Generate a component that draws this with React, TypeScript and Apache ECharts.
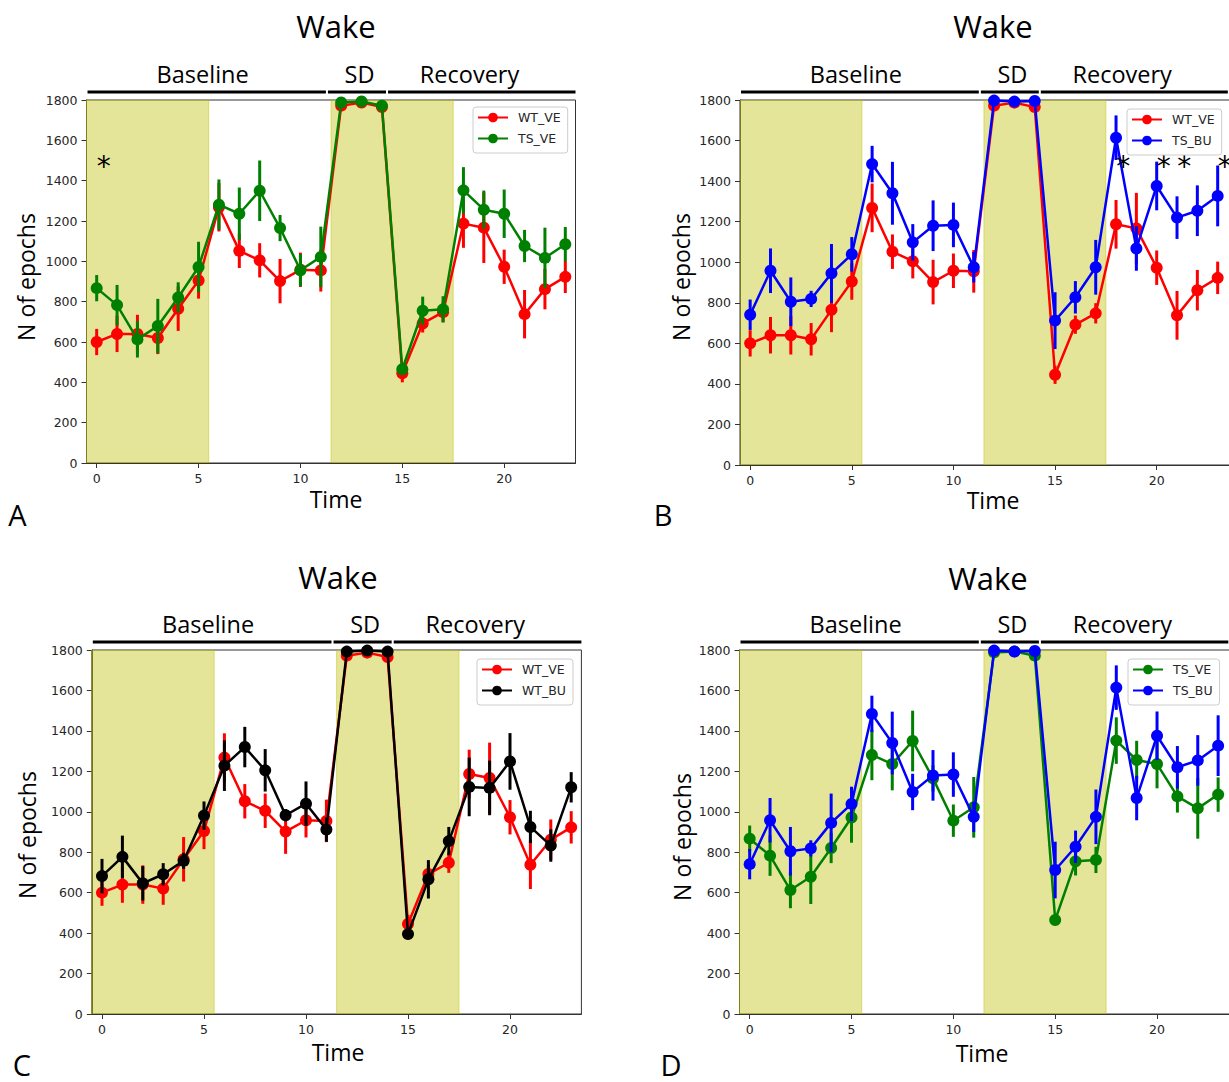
import React, { useEffect, useRef } from "react";
import * as echarts from "echarts";

// ---------- data ----------
const hours = [0, 1, 2, 3, 4, 5, 6, 7, 8, 9, 10, 11, 12, 13, 14, 15, 16, 17, 18, 19, 20, 21, 22, 23];
const xTicks = [0, 5, 10, 15, 20];

const WT_VE = [600, 640, 640, 620, 765, 905, 1268, 1052, 1005, 902, 958, 955, 1772, 1787, 1765, 445, 692, 748, 1187, 1167, 973, 738, 862, 923];
const WT_VE_err = [65, 90, 95, 80, 110, 90, 120, 85, 85, 110, 85, 105, 20, 15, 20, 45, 45, 50, 120, 175, 85, 120, 100, 80];

const TS_VE = [867, 783, 613, 679, 821, 972, 1281, 1236, 1350, 1165, 956, 1022, 1788, 1793, 1772, 465, 755, 762, 1352, 1256, 1236, 1076, 1017, 1085];
const TS_VE_err = [65, 100, 90, 135, 75, 125, 125, 130, 150, 65, 80, 150, 15, 10, 20, 25, 70, 65, 115, 95, 120, 80, 150, 85];

const TS_BU = [741, 958, 805, 819, 945, 1039, 1484, 1340, 1098, 1180, 1184, 975, 1797, 1792, 1795, 712, 827, 975, 1614, 1068, 1376, 1220, 1254, 1327];
const TS_BU_err = [75, 110, 120, 40, 145, 85, 90, 155, 90, 125, 110, 75, 10, 10, 10, 140, 80, 135, 110, 110, 120, 105, 125, 150];

const WT_BU = [682, 777, 646, 691, 757, 981, 1228, 1320, 1205, 983, 1040, 912, 1792, 1797, 1792, 395, 666, 855, 1123, 1118, 1249, 925, 833, 1121];
const WT_BU_err = [85, 105, 85, 55, 40, 70, 125, 100, 105, 30, 110, 60, 10, 10, 10, 20, 95, 70, 145, 135, 140, 80, 80, 75];

const shadeSpans = [
  [-0.5, 5.5],
  [11.5, 17.5],
];
const headerSegments = [
  [-0.45, 11.25],
  [11.35, 14.2],
  [14.3, 23.5],
];
const headerNames = ["Baseline", "SD", "Recovery"];
const headerLabelX = [5.2, 12.9, 18.3];

const asteriskA = [0.35];
const asteriskB = [18.35, 20.35, 21.35, 23.35];
const asteriskY = 1500;

const yMin = 0;
const yMax = 1800;
const yStep = 200;

// ---------- styles ----------
const RED = "#ff0000";
const GREEN = "#008000";
const BLUE = "#0000ff";
const BLACK = "#000000";
const TICK_FONT = "DejaVu Sans";
const TEXT_FONT = "Open Sans";

const seriesDefs = {
  WT_VE: { vals: WT_VE, errs: WT_VE_err, color: RED },
  TS_VE: { vals: TS_VE, errs: TS_VE_err, color: GREEN },
  TS_BU: { vals: TS_BU, errs: TS_BU_err, color: BLUE },
  WT_BU: { vals: WT_BU, errs: WT_BU_err, color: BLACK },
};

const panels = [
  {
    id: "A",
    names: ["WT_VE", "TS_VE"],
    asterisks: asteriskA,
    grid: { left: 86.5, top: 100, width: 489, height: 363 },
    xMax: 23.5,
    legend: { left: 473, top: 107 },
    title: [336, 26],
    time: [336, 499],
    ylab: [26, 277],
    letter: [17.5, 514],
  },
  {
    id: "B",
    names: ["WT_VE", "TS_BU"],
    asterisks: asteriskB,
    grid: { left: 740, top: 100, width: 498, height: 365 },
    xMax: 24,
    legend: { left: 1127, top: 109 },
    title: [993, 26],
    time: [993, 500],
    ylab: [681, 277],
    letter: [663, 514],
  },
  {
    id: "C",
    names: ["WT_VE", "WT_BU"],
    asterisks: [],
    grid: { left: 91.8, top: 650, width: 489.6, height: 364 },
    xMax: 23.5,
    legend: { left: 477, top: 659 },
    title: [338, 577],
    time: [338, 1052],
    ylab: [27, 835],
    letter: [22, 1064],
  },
  {
    id: "D",
    names: ["TS_VE", "TS_BU"],
    asterisks: [],
    grid: { left: 739.5, top: 650, width: 499, height: 364 },
    xMax: 24,
    legend: { left: 1128, top: 659 },
    title: [988, 578],
    time: [982, 1053],
    ylab: [682, 837],
    letter: [671, 1064],
  },
];

function buildOption() {
  const grids: any[] = [];
  const xAxes: any[] = [];
  const yAxes: any[] = [];
  const series: any[] = [];
  const legends: any[] = [];
  const graphics: any[] = [];

  panels.forEach((p, i) => {
    grids.push({
      ...p.grid,
      show: true,
      borderColor: "#333",
      borderWidth: 1,
      backgroundColor: "transparent",
      containLabel: false,
    });
    xAxes.push({
      type: "value",
      gridIndex: i,
      min: -0.5,
      max: p.xMax,
      axisLine: { show: true, onZero: false, lineStyle: { color: "#333", width: 1 } },
      axisTick: { show: true, length: 5, lineStyle: { color: "#333" }, customValues: xTicks },
      axisLabel: {
        customValues: xTicks,
        formatter: (v: number) => String(v),
        fontFamily: TICK_FONT,
        fontSize: 12.5,
        color: "#262626",
        margin: 9,
      },
      splitLine: { show: false },
    });
    yAxes.push({
      type: "value",
      gridIndex: i,
      min: yMin,
      max: yMax,
      interval: yStep,
      axisLine: { show: true, onZero: false, lineStyle: { color: "#333", width: 1 } },
      axisTick: { show: true, length: 5, lineStyle: { color: "#333" } },
      axisLabel: {
        formatter: (v: number) => String(v),
        fontFamily: TICK_FONT,
        fontSize: 12.5,
        color: "#262626",
        margin: 9,
      },
      splitLine: { show: false },
    });

    // shading
    series.push({
      type: "custom",
      xAxisIndex: i,
      yAxisIndex: i,
      z: 1,
      silent: true,
      clip: true,
      data: shadeSpans,
      renderItem: (params: any, api: any) => {
        const p0 = api.coord([api.value(0), yMax]);
        const p1 = api.coord([api.value(1), yMin]);
        return {
          type: "rect",
          shape: { x: p0[0], y: p0[1], width: p1[0] - p0[0], height: p1[1] - p0[1] },
          style: { fill: "rgba(191,191,0,0.4)", stroke: "rgba(191,191,0,0.45)", lineWidth: 1 },
        };
      },
    });

    // header segments
    series.push({
      type: "custom",
      xAxisIndex: i,
      yAxisIndex: i,
      z: 1,
      silent: true,
      clip: false,
      data: headerSegments,
      renderItem: (params: any, api: any) => {
        const p0 = api.coord([api.value(0), yMax]);
        const p1 = api.coord([api.value(1), yMax]);
        return {
          type: "line",
          shape: { x1: p0[0], y1: p0[1] - 8, x2: p1[0], y2: p1[1] - 8 },
          style: { stroke: "#000", lineWidth: 3 },
        };
      },
    });
    // header labels
    series.push({
      type: "custom",
      xAxisIndex: i,
      yAxisIndex: i,
      z: 1,
      silent: true,
      clip: false,
      data: headerLabelX.map((x) => [x, yMax]),
      renderItem: (params: any, api: any) => {
        const pt = api.coord([api.value(0), api.value(1)]);
        return {
          type: "text",
          x: pt[0],
          y: pt[1] - 26,
          style: {
            text: headerNames[params.dataIndex],
            fontFamily: TEXT_FONT,
            fontSize: 23.5,
            fill: "#000",
            textAlign: "center",
            textVerticalAlign: "middle",
          },
        };
      },
    });

    // data series
    p.names.forEach((name, k) => {
      const def = (seriesDefs as any)[name];
      series.push({
        type: "custom",
        name: name + " err",
        xAxisIndex: i,
        yAxisIndex: i,
        z: 3 + k * 2,
        silent: true,
        clip: true,
        data: hours.map((h, j) => [h, def.vals[j], def.errs[j]]),
        renderItem: (params: any, api: any) => {
          const x = api.value(0);
          const y = api.value(1);
          const e = api.value(2);
          const a = api.coord([x, y - e]);
          const b = api.coord([x, y + e]);
          return {
            type: "line",
            shape: { x1: a[0], y1: a[1], x2: b[0], y2: b[1] },
            style: { stroke: def.color, lineWidth: 3 },
          };
        },
      });
      series.push({
        type: "line",
        name,
        xAxisIndex: i,
        yAxisIndex: i,
        z: 4 + k * 2,
        symbol: "circle",
        symbolSize: 12,
        showSymbol: true,
        clip: true,
        silent: true,
        itemStyle: { color: def.color },
        lineStyle: { color: def.color, width: 2.5 },
        data: hours.map((h, j) => [h, def.vals[j]]),
      });
    });

    // asterisks
    if (p.asterisks.length) {
      series.push({
        type: "custom",
        xAxisIndex: i,
        yAxisIndex: i,
        z: 10,
        silent: true,
        clip: false,
        data: p.asterisks.map((x) => [x, asteriskY]),
        renderItem: (params: any, api: any) => {
          const pt = api.coord([api.value(0), api.value(1)]);
          return {
            type: "text",
            x: pt[0],
            y: pt[1] + 6,
            style: {
              text: "*",
              fontFamily: TICK_FONT,
              fontSize: 28,
              fill: "#000",
              textAlign: "center",
              textVerticalAlign: "middle",
            },
          };
        },
      });
    }

    legends.push({
      data: p.names,
      left: p.legend.left,
      top: p.legend.top,
      orient: "vertical",
      z: 20,
      itemWidth: 30,
      itemHeight: 12,
      itemGap: 8,
      padding: [4, 7, 8, 4],
      backgroundColor: "rgba(255,255,255,0.85)",
      borderColor: "#cccccc",
      borderWidth: 1,
      borderRadius: 3,
      selectedMode: false,
      textStyle: { fontFamily: TICK_FONT, fontSize: 12.5, color: "#262626", padding: [0, 0, 0, 5] },
    });

    graphics.push(
      {
        type: "text",
        x: p.title[0],
        y: p.title[1],
        style: { text: "Wake", fontFamily: TEXT_FONT, fontSize: 31, fill: "#000", textAlign: "center", textVerticalAlign: "middle" },
      },
      {
        type: "text",
        x: p.time[0],
        y: p.time[1],
        style: { text: "Time", fontFamily: TEXT_FONT, fontSize: 23, fill: "#000", textAlign: "center", textVerticalAlign: "middle" },
      },
      {
        type: "text",
        x: p.ylab[0],
        y: p.ylab[1],
        rotation: Math.PI / 2,
        style: { text: "N of epochs", fontFamily: TEXT_FONT, fontSize: 23, fill: "#000", textAlign: "center", textVerticalAlign: "middle" },
      },
      {
        type: "text",
        x: p.letter[0],
        y: p.letter[1],
        style: { text: p.id, fontFamily: TEXT_FONT, fontSize: 29, fill: "#000", textAlign: "center", textVerticalAlign: "middle" },
      }
    );
  });

  return {
    animation: false,
    backgroundColor: "#ffffff",
    grid: grids,
    xAxis: xAxes,
    yAxis: yAxes,
    legend: legends,
    series,
    graphic: graphics,
  };
}

export default function App() {
  const ref = useRef<HTMLDivElement>(null);
  useEffect(() => {
    if (!ref.current) return;
    const chart = echarts.init(ref.current, null, { renderer: "svg" });
    chart.setOption(buildOption() as any);
    return () => chart.dispose();
  }, []);
  return (
    <div
      style={{
        position: "absolute",
        left: 0,
        top: 0,
        width: 1229,
        height: 1082,
        overflow: "hidden",
        background: "#fff",
      }}
    >
      <div ref={ref} style={{ width: 1250, height: 1082 }} />
    </div>
  );
}
